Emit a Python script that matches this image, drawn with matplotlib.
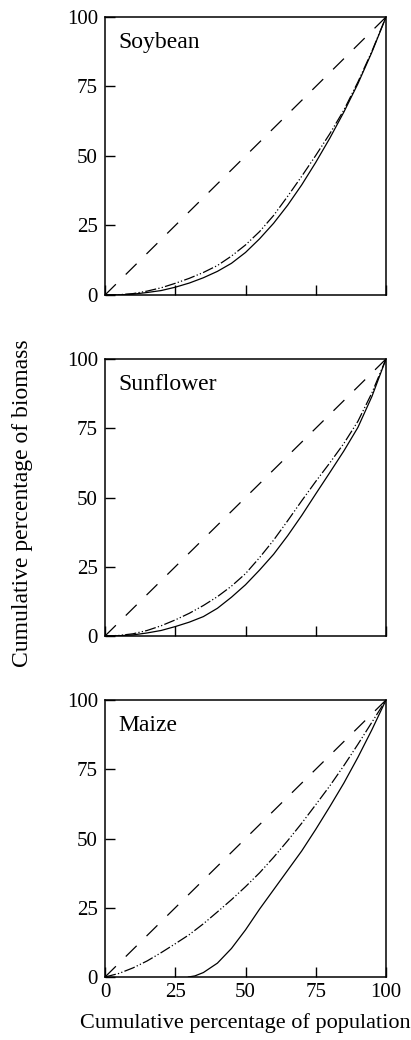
import matplotlib
matplotlib.use("Agg")
import matplotlib.pyplot as plt

plt.rcParams['font.family'] = ['Liberation Serif', 'DejaVu Serif']
plt.rcParams['lines.scale_dashes'] = False

panels = ["Soybean", "Sunflower", "Maize"]
ticks = [0, 25, 50, 75, 100]
tick_labels = ["0", "25", "50", "75", "100"]

equality_x = [0, 100]
equality_y = [0, 100]

pop_x = [0, 5, 10, 15, 20, 25, 30, 35, 40, 45, 50, 55, 60, 65, 70, 75, 80, 85, 90, 95, 100]

soy_solid_y = [0, 0.05, 0.3, 0.9, 1.6, 2.8, 4.3, 6.2, 8.5, 11.4, 15.3, 20.2, 25.8, 32.3, 39.6, 47.7, 56.4, 65.8, 76, 87.4, 100]
soy_dd_y = [0, 0.1, 0.5, 1.4, 2.6, 4.2, 6, 8.1, 10.6, 14, 18, 22.8, 28.6, 35.5, 42.7, 50.2, 58, 66.5, 76.6, 87.7, 100]

sun_solid_y = [0, 0.1, 0.4, 1.1, 2, 3.4, 5, 7, 10, 14, 18.5, 23.8, 29.5, 36.2, 43.5, 51.3, 59, 66.8, 75.3, 86.5, 100]
sun_dd_y = [0, 0.2, 0.8, 2, 3.7, 5.8, 8.2, 11, 14.2, 18, 22.5, 28.3, 34.6, 41.6, 48.8, 55.8, 62.5, 69.5, 77.5, 87.8, 100]

maize_solid_x = [29.7, 32, 35, 40, 45, 50, 55, 60, 65, 70, 75, 80, 85, 90, 95, 100]
maize_solid_y = [0, 0.4, 1.6, 5, 10.3, 17, 24.5, 31.5, 38.5, 45.5, 53.3, 61.5, 70, 79.3, 89.3, 100]
maize_dd_y = [0, 1.3, 3.3, 5.8, 8.8, 12, 15.3, 19.2, 23.5, 27.9, 32.6, 37.6, 43.2, 49.2, 55.5, 62.2, 69, 76.3, 84, 92, 100]

solid_series = [(pop_x, soy_solid_y), (pop_x, sun_solid_y), (maize_solid_x, maize_solid_y)]
dd_series = [(pop_x, soy_dd_y), (pop_x, sun_dd_y), (pop_x, maize_dd_y)]

fig = plt.figure(figsize=(4.11, 10.40), dpi=100)
left = 105 / 411
width = 281 / 411
tops = [17, 359, 700]
bottoms = [295, 636, 977]

for i, name in enumerate(panels):
    b = 1 - bottoms[i] / 1040
    h = (bottoms[i] - tops[i]) / 1040
    ax = fig.add_axes([left, b, width, h])
    ax.plot(equality_x, equality_y, color='black', lw=0.9, dashes=(11, 10))
    dx, dy = dd_series[i]
    ax.plot(dx, dy, color='black', lw=0.9, dashes=(8, 1.6, 0.9, 1.6, 0.9, 1.6))
    sx, sy = solid_series[i]
    ax.plot(sx, sy, color='black', lw=0.9)
    ax.set_xlim(0, 100)
    ax.set_ylim(0, 100)
    ax.set_xticks(ticks)
    ax.set_yticks(ticks)
    ax.set_yticklabels(tick_labels)
    if i == 2:
        ax.set_xticklabels(tick_labels)
    else:
        ax.set_xticklabels([])
    ax.tick_params(direction='in', length=7.5, width=1.0, labelsize=15, top=False, right=False)
    ax.tick_params(axis='y', pad=5)
    ax.tick_params(axis='x', pad=4)
    for sp in ax.spines.values():
        sp.set_linewidth(1.1)
    ax.text(0.046, 0.888, name, transform=ax.transAxes, fontsize=17, va='baseline', ha='left')

fig.text(23 / 411, 1 - 503 / 1040, "Cumulative percentage of biomass", rotation=90,
         ha='center', va='center', fontsize=17)
fig.text(245.5 / 411, 1 - 1028 / 1040, "Cumulative percentage of population",
         ha='center', va='baseline', fontsize=16)

fig.savefig("out.png", dpi=100)
